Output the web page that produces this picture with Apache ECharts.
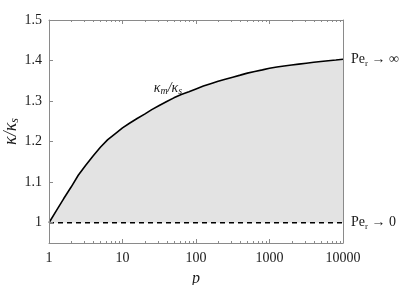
<!DOCTYPE html>
<html><head><meta charset="utf-8">
<script src="https://cdn.jsdelivr.net/npm/echarts@6/dist/echarts.min.js"></script>
<style>html,body{margin:0;padding:0;background:#fff}#c{width:400px;height:285px}</style>
</head><body><div id="c"></div>
<script>
const pValues = [1, 1.26, 1.58, 2, 2.5, 3.16, 4, 5, 6.3, 8, 10, 12.6, 15.8, 20, 25, 31.6, 40, 50, 63, 80, 100, 126, 158, 200, 250, 316, 400, 500, 630, 800, 1000, 1260, 1580, 2000, 2500, 3160, 4000, 5000, 6300, 8000, 10000];
const kappaRatio = [1.000, 1.030, 1.059, 1.088, 1.117, 1.142, 1.165, 1.186, 1.205, 1.220, 1.234, 1.246, 1.257, 1.268, 1.279, 1.289, 1.299, 1.308, 1.316, 1.323, 1.330, 1.337, 1.343, 1.349, 1.354, 1.359, 1.364, 1.369, 1.373, 1.377, 1.381, 1.384, 1.3864, 1.3889, 1.3912, 1.3934, 1.3956, 1.3976, 1.3995, 1.4014, 1.4033];
const xTickLabels = ['1', '10', '100', '1000', '10000'];
const yTickLabels = ['1', '1.1', '1.2', '1.3', '1.4', '1.5'];
const baseline = 1;
const xRange = [1, 10000];
const yRange = [0.95, 1.5];
const annotationAt = [41.6, 1.332];

const minorTicks = [];
for (let d = 1; d < xRange[1]; d *= 10) for (let m = 2; m <= 9; m++) minorTicks.push(d * m);

const SERIF = '"Liberation Serif", "DejaVu Serif", serif';
const AX = '#8a8a8a';
const TXT = '#1a1a1a';

const chart = echarts.init(document.getElementById('c'), null, {renderer: 'canvas'});
const fmtX = v => { const r = String(Math.round(v)); return xTickLabels.includes(r) ? r : ''; };
const fmtY = v => { const r = String(Math.round(v * 10) / 10); return yTickLabels.includes(r) ? r : ''; };

const peRich = {
  a: {fontFamily: SERIF, fontSize: 14, color: TXT, lineHeight: 16},
  b: {fontFamily: SERIF, fontSize: 9, color: TXT, padding: [8, 0, 0, 0], lineHeight: 9}
};

chart.setOption({
  animation: false,
  grid: {left: 49, right: 57, top: 20, bottom: 42, containLabel: false, outerBoundsMode: 'none'},
  xAxis: [{
    type: 'log', min: xRange[0], max: xRange[1], position: 'bottom', z: 5,
    axisLine: {show: true, lineStyle: {color: AX, width: 1}},
    axisTick: {show: true, inside: true, length: 4, lineStyle: {color: AX}},
    splitLine: {show: false},
    axisLabel: {formatter: fmtX, fontFamily: SERIF, fontSize: 14, color: TXT, margin: 8},
    name: 'p', nameLocation: 'middle', nameGap: 28, nameMoveOverlap: false,
    nameTextStyle: {fontFamily: SERIF, fontStyle: 'italic', fontSize: 16, color: TXT}
  }, {
    type: 'log', min: xRange[0], max: xRange[1], position: 'top', z: 5,
    axisLine: {show: true, lineStyle: {color: AX, width: 1}},
    axisTick: {show: true, inside: true, length: 4, lineStyle: {color: AX}},
    splitLine: {show: false}, axisLabel: {show: false}
  }],
  yAxis: [{
    type: 'value', min: yRange[0], max: yRange[1], position: 'left', z: 5,
    axisLine: {show: true, lineStyle: {color: AX, width: 1}},
    axisTick: {show: true, inside: true, length: 4, lineStyle: {color: AX}},
    splitLine: {show: false},
    axisLabel: {formatter: fmtY, showMinLabel: false, fontFamily: SERIF, fontSize: 14, color: TXT, margin: 7},
    name: '{k|κ/κ}{s|s}', nameLocation: 'middle', nameGap: 28, nameRotate: 90, nameMoveOverlap: false,
    nameTextStyle: {rich: {
      k: {fontFamily: SERIF, fontStyle: 'italic', fontSize: 18, color: TXT, lineHeight: 20},
      s: {fontFamily: SERIF, fontStyle: 'italic', fontSize: 12, color: TXT, padding: [7, 0, 0, 0], lineHeight: 12}
    }}
  }, {
    type: 'value', min: yRange[0], max: yRange[1], position: 'right', z: 5,
    axisLine: {show: true, lineStyle: {color: AX, width: 1}},
    axisTick: {show: false}, splitLine: {show: false}, axisLabel: {show: false}
  }],
  series: [{
    type: 'line', xAxisIndex: 0, yAxisIndex: 0,
    data: pValues.map((p, i) => [p, kappaRatio[i]]),
    smooth: false, showSymbol: false, symbol: 'none',
    lineStyle: {color: '#000', width: 1.6},
    areaStyle: {color: '#e3e3e3', opacity: 1, origin: baseline},
    z: 3,
    endLabel: {show: true, distance: 8, formatter: '{a|Pe}{b|r}{a| → ∞}', rich: peRich},
    markPoint: {
      symbol: 'circle', symbolSize: 0, silent: true,
      data: [{coord: annotationAt}],
      label: {show: true, position: 'inside', formatter: '{k|κ}{s|m}{k|/κ}{s|s}', rich: {
        k: {fontFamily: SERIF, fontStyle: 'italic', fontSize: 14, color: TXT, lineHeight: 15},
        s: {fontFamily: SERIF, fontStyle: 'italic', fontSize: 10, color: TXT, padding: [6, 0, 0, 0], lineHeight: 10}
      }}
    }
  }, {
    type: 'line', xAxisIndex: 0, yAxisIndex: 0,
    data: [[xRange[0], baseline], [xRange[1], baseline]],
    showSymbol: false, symbol: 'none',
    lineStyle: {color: '#000', width: 1.3, type: [5, 4]},
    z: 4,
    endLabel: {show: true, distance: 8, formatter: '{a|Pe}{b|r}{a| → 0}', rich: peRich}
  }, {
    type: 'custom', xAxisIndex: 0, yAxisIndex: 0, silent: true, z: 6, clip: false,
    data: minorTicks.map(v => [v, baseline]),
    renderItem(params, api) {
      const x = Math.round(api.coord([api.value(0), baseline])[0]) + 0.5;
      const cs = params.coordSys;
      const st = {stroke: AX, lineWidth: 1};
      return {type: 'group', children: [
        {type: 'line', shape: {x1: x, y1: cs.y + cs.height, x2: x, y2: cs.y + cs.height - 2}, style: st},
        {type: 'line', shape: {x1: x, y1: cs.y, x2: x, y2: cs.y + 2}, style: st}
      ]};
    }
  }]
});
</script></body></html>
